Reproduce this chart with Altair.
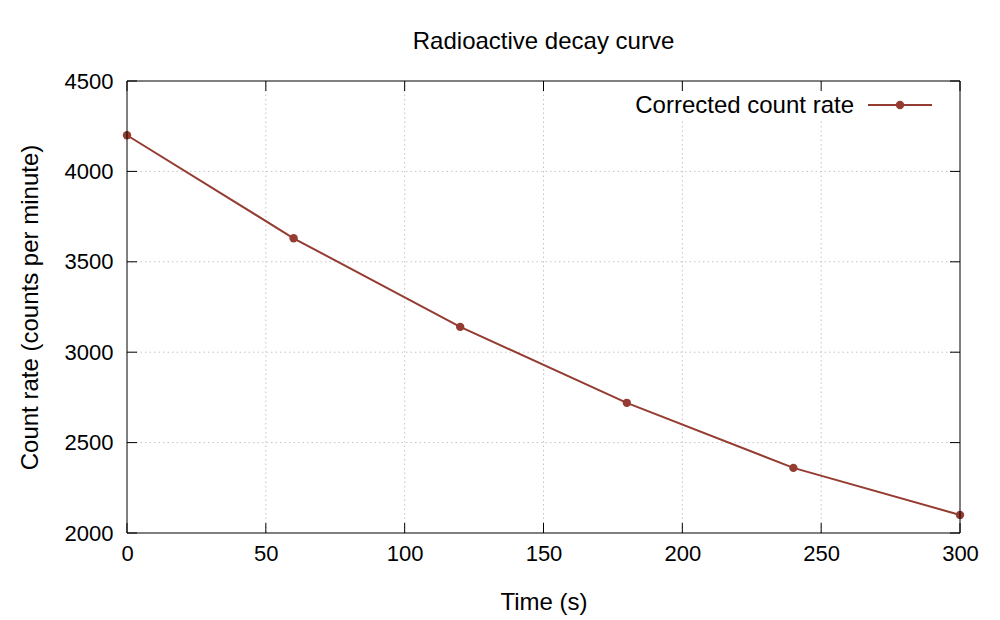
import altair as alt
import pandas as pd

# Measured count rates over time
time_s = [0, 60, 120, 180, 240, 300]
count_rate = [4200, 3630, 3140, 2720, 2360, 2100]
series_name = ["Corrected count rate"]

x_ticks = [0, 50, 100, 150, 200, 250, 300]
y_ticks = [2000, 2500, 3000, 3500, 4000, 4500]

LINE_COLOR = "#953c32"
GRID_COLOR = "#c4c4c4"
FONT = "Liberation Sans"
W, H = 833, 452
TICK = 10

df = pd.DataFrame({"t": time_s, "rate": count_rate})
xt = pd.DataFrame({"t": x_ticks})
yt = pd.DataFrame({"rate": y_ticks})
# interior grid positions (the frame itself covers the end values)
xg = pd.DataFrame({"t": x_ticks[1:-1]})
yg = pd.DataFrame({"rate": y_ticks[1:-1]})
leg = pd.DataFrame({"name": series_name})

xscale = alt.Scale(domain=[0, 300], nice=False, zero=False)
yscale = alt.Scale(domain=[2000, 4500], nice=False, zero=False)

x_axis = alt.Axis(
    values=x_ticks, title="Time (s)", grid=False, ticks=False, domain=False,
    labelFlush=False, labelPadding=10, titlePadding=26, format="d",
)
y_axis = alt.Axis(
    values=y_ticks, title="Count rate (counts per minute)", grid=False,
    ticks=False, domain=False, labelPadding=14, titlePadding=22, format="d",
)

# Dotted grid
x_grid = alt.Chart(xg).mark_rule(color=GRID_COLOR, strokeDash=[1.5, 3], strokeWidth=1).encode(
    x=alt.X("t:Q", scale=xscale), y=alt.value(0), y2=alt.value(H)
)
y_grid = alt.Chart(yg).mark_rule(color=GRID_COLOR, strokeDash=[1.5, 3], strokeWidth=1).encode(
    y=alt.Y("rate:Q", scale=yscale), x=alt.value(0), x2=alt.value(W)
)

curve = alt.Chart(df).mark_line(
    color=LINE_COLOR, strokeWidth=2,
    point=alt.OverlayMarkDef(color=LINE_COLOR, size=70, filled=True, opacity=1),
).encode(
    x=alt.X("t:Q", scale=xscale, axis=x_axis),
    y=alt.Y("rate:Q", scale=yscale, axis=y_axis),
)

# Opaque key box hiding the grid behind the legend
key_box = alt.Chart(leg).mark_rect(color="white").encode(
    x=alt.value(495), x2=alt.value(815), y=alt.value(1), y2=alt.value(38)
)

# Frame and inward tick marks on all four sides
frame = alt.Chart(leg).mark_rect(fill=None, stroke="black", strokeWidth=1).encode(
    x=alt.value(0), x2=alt.value(W), y=alt.value(0), y2=alt.value(H)
)
bottom_ticks = alt.Chart(xt).mark_rule(color="black", strokeWidth=1).encode(
    x=alt.X("t:Q", scale=xscale), y=alt.value(H), y2=alt.value(H - TICK)
)
top_ticks = alt.Chart(xt).mark_rule(color="black", strokeWidth=1).encode(
    x=alt.X("t:Q", scale=xscale), y=alt.value(0), y2=alt.value(TICK)
)
left_ticks = alt.Chart(yt).mark_rule(color="black", strokeWidth=1).encode(
    y=alt.Y("rate:Q", scale=yscale), x=alt.value(0), x2=alt.value(TICK)
)
right_ticks = alt.Chart(yt).mark_rule(color="black", strokeWidth=1).encode(
    y=alt.Y("rate:Q", scale=yscale), x=alt.value(W), x2=alt.value(W - TICK)
)

# Key: label followed by a line sample with a point
key_text = alt.Chart(leg).mark_text(
    align="right", baseline="middle", font=FONT, fontSize=24, color="black"
).encode(text="name:N", x=alt.value(727), y=alt.value(25))
key_line = alt.Chart(leg).mark_rule(color=LINE_COLOR, strokeWidth=2).encode(
    x=alt.value(741), x2=alt.value(805), y=alt.value(24)
)
key_point = alt.Chart(leg).mark_point(
    color=LINE_COLOR, filled=True, size=70, opacity=1
).encode(x=alt.value(773), y=alt.value(24))

chart = alt.layer(
    x_grid, y_grid, key_box, curve, frame,
    bottom_ticks, top_ticks, left_ticks, right_ticks,
    key_text, key_line, key_point,
).properties(
    width=W,
    height=H,
    autosize=alt.AutoSizeParams(type="none"),
    padding={"left": 127, "top": 81, "right": 40, "bottom": 87},
    title=alt.TitleParams(
        "Radioactive decay curve", font=FONT, fontSize=24, fontWeight="normal",
        color="black", anchor="middle", offset=16,
    ),
    background="white",
).configure_view(
    stroke=None
).configure_axis(
    labelFont=FONT, labelFontSize=22, labelColor="black",
    titleFont=FONT, titleFontSize=24, titleFontWeight="normal", titleColor="black",
)

chart.save("out.html", embed_options={"renderer": "svg", "actions": False})
